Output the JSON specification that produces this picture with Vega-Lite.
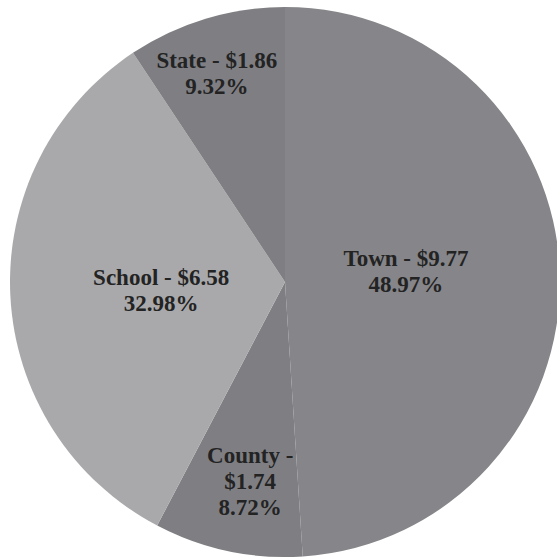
{
  "$schema": "https://vega.github.io/schema/vega-lite/v6.json",
  "autosize": "none",
  "width": 570,
  "height": 564,
  "padding": 0,
  "background": "#ffffff",
  "data": {
    "values": [
      {"idx": 1, "cat": "Town", "value": 9.77, "label": "Town - $9.77\n48.97%"},
      {"idx": 2, "cat": "County", "value": 1.74, "label": "County -\n$1.74\n8.72%"},
      {"idx": 3, "cat": "School", "value": 6.58, "label": "School - $6.58\n32.98%"},
      {"idx": 4, "cat": "State", "value": 1.86, "label": "State - $1.86\n9.32%"}
    ]
  },
  "encoding": {
    "theta": {"field": "value", "type": "quantitative", "stack": true},
    "order": {"field": "idx", "type": "ordinal"}
  },
  "layer": [
    {
      "mark": {"type": "arc", "outerRadius": 275},
      "encoding": {
        "color": {
          "field": "cat",
          "type": "nominal",
          "scale": {"domain": ["Town", "County", "School", "State"], "range": ["#86868a", "#7f7f83", "#a9a9ab", "#7f7f83"]},
          "legend": null
        }
      }
    },
    {
      "mark": {
        "type": "text",
        "radius": {"expr": "datum.cat === 'State' ? 219 : datum.cat === 'County' ? 201 : datum.cat === 'Town' ? 121 : 124"},
        "dx": {"expr": "datum.cat === 'State' ? -5 : datum.cat === 'County' ? 7 : 0"},
        "dy": {"expr": "datum.cat === 'State' ? -11 : datum.cat === 'County' ? -23 : datum.cat === 'Town' ? -19 : -10"},
        "font": "Liberation Serif",
        "fontWeight": "bold",
        "fontSize": 23,
        "lineHeight": 26,
        "lineBreak": "\n",
        "color": "#232323",
        "align": "center",
        "baseline": "middle"
      },
      "encoding": {
        "text": {"field": "label", "type": "nominal"}
      }
    }
  ]
}
